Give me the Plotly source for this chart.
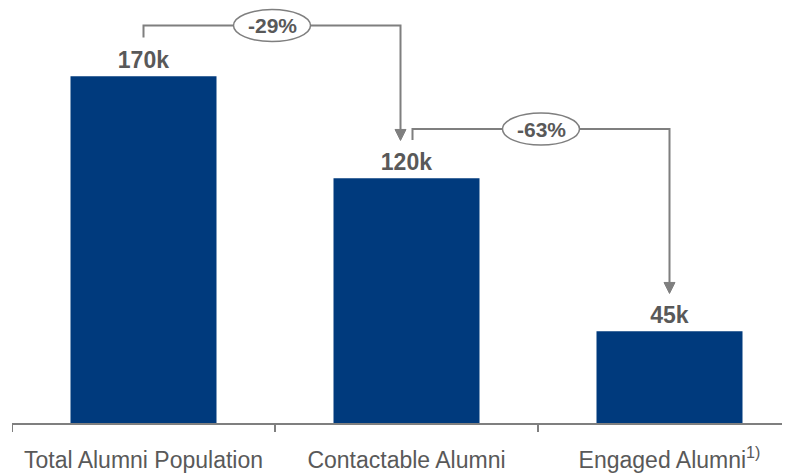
import plotly.graph_objects as go

categories = ["Total Alumni Population", "Contactable Alumni", "Engaged Alumni<sup>1)</sup>"]
values = [170, 120, 45]
value_labels = ["170k", "120k", "45k"]
changes = ["-29%", "-63%"]

navy = "#003A7D"
grey_line = "#7F7F7F"
grey_text = "#595959"

# pixel scales of the plot area
px_per_k = 2.04
px_per_cat = 263.0

fig = go.Figure()
fig.add_trace(go.Bar(
    x=list(range(len(categories))), y=values,
    width=146 / px_per_cat, marker=dict(color=navy, line=dict(width=0)),
    text=value_labels, textposition="outside", cliponaxis=False,
    textfont=dict(family="Liberation Sans", size=23, color=grey_text, weight="bold"),
))

# connectors between bars
shift = 6 / px_per_cat
conns = [(0, 1, 0.0, -shift), (1, 2, shift, 0.0)]
top_levels = [194.8, 144.1]
start_gap = [19.0, 18.7]
for (i, j, dx0, dx1), lvl, gap, lab in zip(conns, top_levels, start_gap, changes):
    x0 = i + dx0
    x1 = j + dx1
    y_start = values[i] + gap
    tip = values[j] + 18.5
    head_h = 11 / px_per_k
    head_w = 5.5 / px_per_cat
    fig.add_shape(type="path",
                  path=f"M {x0} {y_start} L {x0} {lvl} L {x1} {lvl} L {x1} {tip + head_h}",
                  xref="x", yref="y", line=dict(color=grey_line, width=2))
    fig.add_shape(type="path",
                  path=f"M {x1 - head_w} {tip + head_h} L {x1 + head_w} {tip + head_h} L {x1} {tip} Z",
                  xref="x", yref="y", line=dict(color=grey_line, width=1), fillcolor=grey_line)
    xm = (x0 + x1) / 2
    fig.add_shape(type="circle", xref="x", yref="y", xsizemode="pixel", ysizemode="pixel",
                  xanchor=xm, yanchor=lvl, x0=-38.5, x1=38.5, y0=-16, y1=16,
                  line=dict(color=grey_line, width=1.5), fillcolor="white")
    fig.add_annotation(x=xm, y=lvl, xref="x", yref="y", text=lab, showarrow=False,
                       font=dict(family="Liberation Sans", size=21, color=grey_text, weight="bold"))

fig.update_layout(
    width=782, height=467,
    margin=dict(l=4, r=0, t=0, b=52),
    plot_bgcolor="white", paper_bgcolor="white",
    showlegend=False,
    xaxis=dict(
        range=[-0.5, -0.5 + 778 / px_per_cat],
        tickmode="array", tickvals=list(range(len(categories))), ticktext=categories,
        showline=True, linecolor=grey_line, linewidth=2,
        ticks="", showgrid=False, zeroline=False, automargin=False,
        ticklabelstandoff=15,
        tickfont=dict(family="Liberation Sans", size=23, color=grey_text),
    ),
    yaxis=dict(range=[0, 415 / px_per_k], visible=False),
)

# boundary tick marks on the category axis
for b in [-0.5, 0.5, 1.5]:
    fig.add_shape(type="line", xref="x", yref="paper", x0=b, x1=b, y0=0, y1=-9 / 415,
                  line=dict(color=grey_line, width=2))

fig.write_html("out.html")
